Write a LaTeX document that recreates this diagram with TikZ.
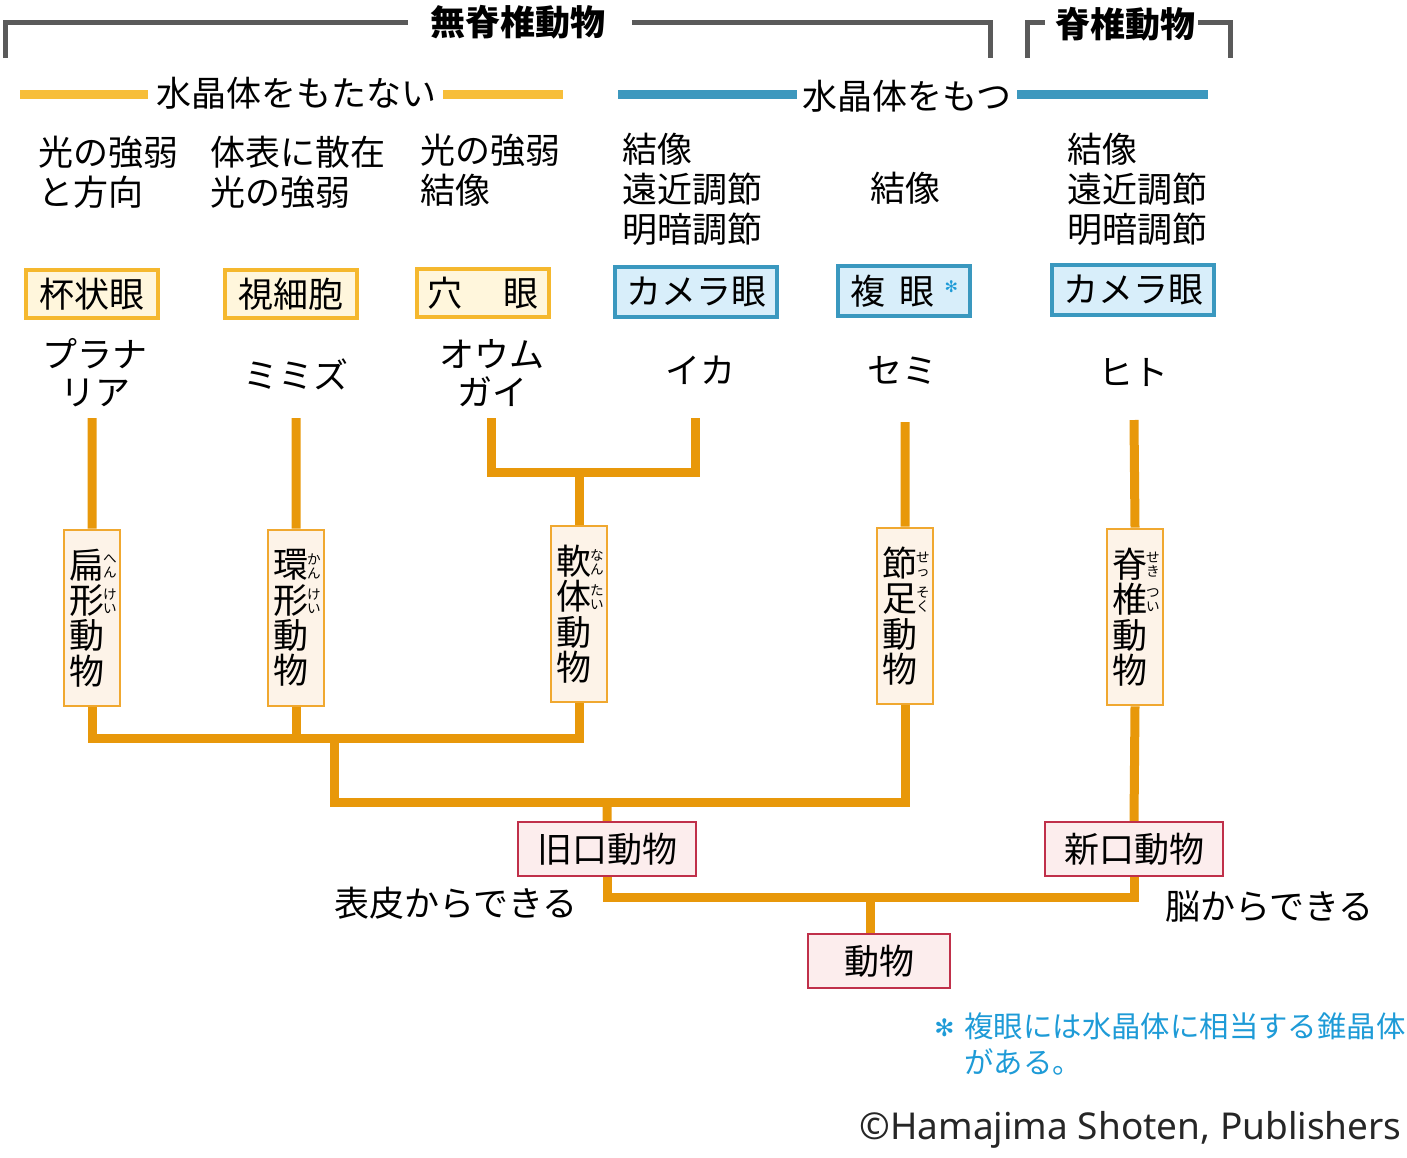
\documentclass[tikz,border=0pt]{standalone}
\usepackage{fontspec}
\setmainfont{Noto Sans CJK JP}
\newfontfamily\latinf{Noto Sans}
\newfontfamily\symf{DejaVu Sans}
\begin{document}
\begin{tikzpicture}[x=0.5pt,y=-0.5pt,
  tr/.style={draw=treeor,line width=4.5pt},
  big/.style={font=\fontsize{17.5}{20}\selectfont},
  ybox/.style={draw=yb,fill=yf,line width=1.6pt,minimum width=66pt,minimum height=24pt,inner sep=0pt,big},
  bbox/.style={draw=bb,fill=bf,line width=1.8pt,minimum height=25pt,inner sep=0pt,big},
  rbox/.style={draw=rb,fill=rf,line width=1.2pt,minimum width=89pt,minimum height=27pt,inner sep=0pt,big},
  vbx/.style={draw=vb,fill=vf,line width=1.3pt,minimum width=28pt,minimum height=88pt,inner sep=0pt},
  vt/.style={font=\fontsize{17.5}{17.7}\selectfont,align=center,inner sep=0pt},
  rb/.style={font=\fontsize{6.8}{7}\selectfont,align=center,inner sep=0pt},
  lbl/.style={big,align=left,anchor=west,inner sep=0pt},
]
\definecolor{treeor}{HTML}{E8980A}
\definecolor{yb}{HTML}{F5B82E}\definecolor{yf}{HTML}{FFF6DC}
\definecolor{bb}{HTML}{3A98BF}\definecolor{bf}{HTML}{D8EEFA}
\definecolor{rb}{HTML}{C0304A}\definecolor{rf}{HTML}{FCEDED}
\definecolor{vb}{HTML}{F0A830}\definecolor{vf}{HTML}{FDF3E8}
\definecolor{gl}{HTML}{5A5A5A}
\definecolor{yl}{HTML}{F7BE3A}\definecolor{bl}{HTML}{3D98BE}
\definecolor{nb}{HTML}{1E9BD7}
\useasboundingbox (0,0) rectangle (1407,1157);
% top brackets
\node[font=\fontsize{17.5}{20}\selectfont\bfseries] (inv) at (518,22) {無脊椎動物};
\coordinate (a1) at (5,58); \coordinate (a2) at (5,22); \coordinate (a3) at (408,22);
\coordinate (a4) at (632,22); \coordinate (a5) at (990,22); \coordinate (a6) at (990,58);
\draw[gl,line width=2.5pt] (a1)--(a2)--(a3) (a4)--(a5)--(a6);
\node[font=\fontsize{17.5}{20}\selectfont\bfseries] (ver) at (1125,24) {脊椎動物};
\coordinate (c1) at (1027,58); \coordinate (c2) at (1027,22); \coordinate (c3) at (1045,22);
\coordinate (c4) at (1198,22); \coordinate (c5) at (1230,22); \coordinate (c6) at (1230,58);
\draw[gl,line width=2.5pt] (c1)--(c2)--(c3) (c4)--(c5)--(c6);
% lens lines
\node[big] (nol) at (296,93) {水晶体をもたない};
\coordinate (y1) at (20,94); \coordinate (y2) at (148,94); \coordinate (y3) at (443,94); \coordinate (y4) at (563,94);
\draw[yl,line width=4.5pt] (y1)--(y2) (y3)--(y4);
\node[big] (hasl) at (907,96) {水晶体をもつ};
\coordinate (b1) at (618,94); \coordinate (b2) at (797,94); \coordinate (b3) at (1017,94); \coordinate (b4) at (1208,94);
\draw[bl,line width=4.5pt] (b1)--(b2) (b3)--(b4);
% functions
\node[lbl] (f1) at (38,172) {光の強弱\\と方向};
\node[lbl] (f2) at (210,172) {体表に散在\\光の強弱};
\node[lbl] (f3) at (420,170) {光の強弱\\結像};
\node[lbl] (f4) at (622,189) {結像\\遠近調節\\明暗調節};
\node[lbl] (f5) at (870,188) {結像};
\node[lbl] (f6) at (1067,189) {結像\\遠近調節\\明暗調節};
% eye boxes
\node[ybox] (e1) at (92,294) {杯状眼};
\node[ybox] (e2) at (291,294) {視細胞};
\node[ybox] (e3) at (483,293) {穴\hspace{1.2em}眼};
\node[bbox,minimum width=81pt] (e4) at (696,292) {カメラ眼};
\node[bbox,minimum width=66pt] (e5) at (904,291) {複\hspace{0.4em}眼\hspace{0.3em}\raisebox{0.6ex}{\textcolor{nb}{\symf\bfseries\fontsize{8}{8}\selectfont ✻}}};
\node[bbox,minimum width=81pt] (e6) at (1133,290) {カメラ眼};
% animals
\node[align=center,inner sep=0pt,font=\fontsize{17.5}{19}\selectfont] (n1) at (95,373) {プラナ\\リア};
\node[big] (n2) at (296,374) {ミミズ};
\node[align=center,inner sep=0pt,font=\fontsize{17.5}{19}\selectfont] (n3) at (492,373) {オウム\\ガイ};
\node[big] (n4) at (700,370) {イカ};
\node[big] (n5) at (902,370) {セミ};
\node[big] (n6) at (1133,372) {ヒト};
% coordinates for tree tops
\coordinate (t1) at (92,418); \coordinate (t2) at (296,418); \coordinate (t3) at (491,418);
\coordinate (t4) at (695,418); \coordinate (t5) at (905,422); \coordinate (t6) at (1134,420);
% vertical boxes
\node[vbx] (v1) at (92,618) {};
\node[vbx] (v2) at (296,618) {};
\node[vbx] (v3) at (579,614) {};
\node[vbx] (v4) at (905,616) {};
\node[vbx] (v5) at (1135,617) {};
\node[vt] at (87,618) {扁\\形\\動\\物};
\node[vt] at (291,618) {環\\形\\動\\物};
\node[vt] at (574,614) {軟\\体\\動\\物};
\node[vt] at (900,616) {節\\足\\動\\物};
\node[vt] at (1130,617) {脊\\椎\\動\\物};
\node[rb] at (110,566) {へ\\ん}; \node[rb] at (110,601) {け\\い};
\node[rb] at (314,566) {か\\ん}; \node[rb] at (314,601) {け\\い};
\node[rb] at (597,562) {な\\ん}; \node[rb] at (597,597) {た\\い};
\node[rb] at (923,564) {せ\\っ}; \node[rb] at (923,600) {そ\\く};
\node[rb] at (1153,565) {せ\\き}; \node[rb] at (1153,600) {つ\\い};
% tree
\coordinate (m1) at (491,472); \coordinate (m2) at (695,472); \coordinate (m3) at (579,472);
\draw[tr] (t1)--(v1.north) (t2)--(v2.north) (t5)--(v4.north) (t6)--(v5.north);
\draw[tr] (t3)--(m1)--(m2)--(t4) (m3)--(v3.north);
\coordinate (p1) at (92,738); \coordinate (p2) at (296,738); \coordinate (p3) at (579,738); \coordinate (p4) at (334,738);
\coordinate (q1) at (334,802); \coordinate (q2) at (905,802); \coordinate (q3) at (607,802);
\draw[tr] (v1.south)--(p1)--(p3)--(v3.south) (v2.south)--(p2) (p4)--(q1)--(q2)--(v4.south);
\node[rbox] (pro) at (607,849) {旧口動物};
\node[rbox] (deu) at (1134,849) {新口動物};
\draw[tr] (q3)--(pro.north) (v5.south)--(deu.north);
\node[rbox,minimum width=71pt] (ani) at (879,961) {動物};
\coordinate (r1) at (607,897); \coordinate (r2) at (1134,897); \coordinate (r3) at (870,897);
\draw[tr] (pro.south)--(r1)--(r2)--(deu.south) (r3)--(r3|-ani.north);
\node[big,anchor=east,inner sep=0pt] (s1) at (578,903) {表皮からできる};
\node[big,anchor=west,inner sep=0pt] (s2) at (1165,906) {脳からできる};
% note
\node[text=nb,font=\symf\bfseries\fontsize{12}{15}\selectfont,anchor=west,inner sep=0pt] (st) at (934,1028) {✻};
\node[text=nb,font=\fontsize{14.7}{18}\selectfont,anchor=north west,align=left,inner sep=0pt] (note) at (964,1012) {複眼には水晶体に相当する錐晶体\\がある。};
\node[font=\fontsize{18.5}{22}\selectfont\latinf,text=black!85,anchor=east,inner sep=0pt] (cp) at (1402,1130) {©Hamajima Shoten, Publishers};
\end{tikzpicture}
\end{document}
